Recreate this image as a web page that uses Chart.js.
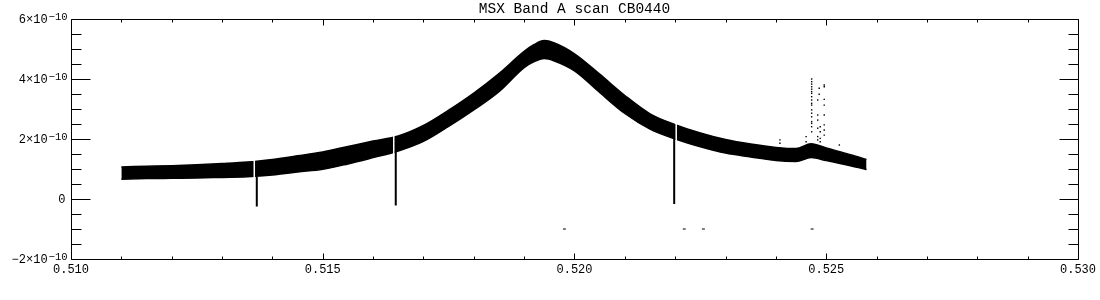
<!DOCTYPE html>
<html><head><meta charset="utf-8">
<script src="https://cdn.jsdelivr.net/npm/chart.js@4.4.1/dist/chart.umd.min.js"></script>
<style>html,body{margin:0;padding:0;background:#fff}canvas{display:block}</style>
</head><body>
<canvas id="c" width="1100" height="300"></canvas>
<script>
// ---- data (y values in units of 1e-10) ----
const titleText = 'MSX Band A scan CB0440';
const bandX     = [0.5110,0.5115,0.5120,0.5125,0.5130,0.5135,0.5140,0.5145,0.5150,0.5155,0.5160,0.5165,0.5170,0.5175,0.5180,0.5185,0.5190,0.5192,0.5194,0.5196,0.5200,0.5205,0.5210,0.5215,0.5220,0.5225,0.5230,0.5235,0.5240,0.5244,0.5247,0.5250,0.5255,0.5258];
const bandUpper = [1.07,1.09,1.11,1.14,1.18,1.23,1.32,1.44,1.57,1.75,1.93,2.10,2.45,2.96,3.53,4.18,4.92,5.15,5.28,5.20,4.84,4.16,3.45,2.84,2.48,2.20,1.98,1.83,1.72,1.68,1.84,1.70,1.47,1.32];
const bandLower = [0.66,0.68,0.69,0.70,0.72,0.74,0.80,0.90,0.99,1.17,1.38,1.60,1.92,2.42,2.97,3.58,4.38,4.58,4.68,4.60,4.27,3.55,2.85,2.33,2.00,1.74,1.53,1.40,1.28,1.25,1.38,1.28,1.10,0.98];

const dipX      = [0.51369, 0.51645, 0.52198];
const dipGapX   = [0.51364, 0.51641, 0.52202];
const dipTop    = [1.24, 2.08, 2.48];
const dipBottom = [0.73, 1.59, 2.00];
const dipMin    = [-0.25, -0.22, -0.17];

const spikeX = [0.52471,0.52471,0.52471,0.52471,0.52471,0.52471,0.52471,0.52471,0.52471,0.52471,0.52471,0.52471,0.52471,0.52471,0.52471,0.52471,0.52471,0.52471,
                0.52486,0.52486,
                0.52496,0.52496,0.52496,0.52496,0.52496,0.52496,0.52496,0.52496,
                0.52483,0.52483,0.52483,0.52483,0.52483,0.52483,
                0.52488,0.52488,0.52488,0.52488,
                0.52460,0.52460,
                0.52408,0.52408,
                0.52526];
const spikeY = [4.00,3.91,3.83,3.74,3.66,3.58,3.52,3.41,3.30,3.19,3.13,2.97,2.86,2.74,2.58,2.52,2.41,2.24,
                3.69,3.49,
                3.80,3.74,3.32,3.13,2.80,2.47,2.30,2.13,
                3.30,2.80,2.63,2.36,2.08,1.97,
                2.41,2.24,2.02,1.91,
                2.08,1.91,
                1.97,1.86,
                1.80];
const lowX = [0.51980, 0.52218, 0.52256, 0.52472];
const lowY = [-1.0, -1.0, -1.0, -1.0];

const xTickValues = [0.510, 0.515, 0.520, 0.525, 0.530];
const xTickLabels = ['0.510', '0.515', '0.520', '0.525', '0.530'];
const yTickValues = [-2, 0, 2, 4, 6];
const yTickBase   = ['\u22122\u00d710', '0', '2\u00d710', '4\u00d710', '6\u00d710'];
const yTickExp    = ['\u221210', '', '\u221210', '\u221210', '\u221210'];

// ---- build datasets ----
const pts = (xs, ys) => xs.map((x, i) => ({x: x, y: ys[i]}));
const datasets = [
  { data: pts(bandX, bandUpper), borderColor: '#000', borderWidth: 1.5, pointRadius: 0,
    fill: '+1', backgroundColor: '#000', cubicInterpolationMode: 'monotone', order: 3 },
  { data: pts(bandX, bandLower), borderColor: '#000', borderWidth: 1.5, pointRadius: 0,
    fill: false, cubicInterpolationMode: 'monotone', order: 3 }
];
dipX.forEach((x, i) => {
  datasets.push({ data: [{x: dipGapX[i], y: dipTop[i] + 0.1}, {x: dipGapX[i], y: dipBottom[i] - 0.1}],
    borderColor: '#fff', borderWidth: 1.5, pointRadius: 0, fill: false, order: 2 });
  datasets.push({ data: [{x: x, y: dipBottom[i]}, {x: x, y: dipMin[i]}],
    borderColor: '#000', borderWidth: 2, pointRadius: 0, fill: false, order: 1 });
});
datasets.push({ data: pts(spikeX, spikeY), showLine: false, pointStyle: 'rect', pointRadius: 1,
  pointBorderWidth: 0, pointBackgroundColor: '#000', order: 0 });
datasets.push({ data: pts(lowX, lowY), showLine: false, pointStyle: 'line', pointRadius: 1.5,
  pointBorderWidth: 1, pointBorderColor: '#000', order: 0 });

const MONO = '"Liberation Mono", "DejaVu Sans Mono", monospace';

// ---- IDL-style frame, inward ticks, title and superscript labels ----
const framePlugin = {
  id: 'frame',
  afterDraw(chart) {
    const ctx = chart.ctx, xs = chart.scales.x, ys = chart.scales.y, a = chart.chartArea;
    const L = Math.round(a.left) + 0.5, R = Math.round(a.right) + 0.5;
    const T = Math.round(a.top) + 0.5, B = Math.round(a.bottom) + 0.5;
    ctx.save();
    ctx.strokeStyle = '#000'; ctx.lineWidth = 1;
    ctx.beginPath();
    ctx.rect(L, T, R - L, B - T);
    for (let v = -2; v <= 6.0001; v += 0.5) {
      const major = yTickValues.some(t => Math.abs(t - v) < 1e-6);
      const len = major ? 19 : 10;
      const py = Math.round(ys.getPixelForValue(v)) + 0.5;
      ctx.moveTo(L, py); ctx.lineTo(L + len, py);
      ctx.moveTo(R, py); ctx.lineTo(R - len, py);
    }
    for (let k = 0; k <= 20; k++) {
      const v = 0.510 + k * 0.001;
      const major = k % 5 === 0;
      const len = major ? 6 : 3;
      const px = Math.round(xs.getPixelForValue(v)) + 0.5;
      ctx.moveTo(px, B); ctx.lineTo(px, B - len);
      ctx.moveTo(px, T); ctx.lineTo(px, T + len);
    }
    ctx.stroke();
    ctx.fillStyle = '#000';
    // title centred over the plot
    ctx.font = '14.5px ' + MONO;
    ctx.textAlign = 'center'; ctx.textBaseline = 'alphabetic';
    ctx.fillText(titleText, (a.left + a.right) / 2, 13);
    // y labels
    ctx.textAlign = 'right';
    const mainFont = '12px ' + MONO;
    const expFont = '10.5px ' + MONO;
    yTickValues.forEach((v, i) => {
      const py = Math.round(ys.getPixelForValue(v));
      const right = L - 4;
      if (yTickExp[i]) {
        ctx.font = expFont;
        const w = ctx.measureText(yTickExp[i]).width;
        ctx.fillText(yTickExp[i], right, py + 1);
        ctx.font = mainFont;
        ctx.fillText(yTickBase[i], right - w - 1, py + 4);
      } else {
        ctx.font = mainFont;
        ctx.fillText(yTickBase[i], right - 2, py + 4);
      }
    });
    ctx.restore();
  }
};

new Chart(document.getElementById('c'), {
  type: 'line',
  data: { datasets: datasets },
  options: {
    responsive: false, animation: false, devicePixelRatio: 1,
    layout: { padding: { left: 0, right: 21, top: 19, bottom: 0 } },
    plugins: {
      legend: { display: false }, tooltip: { enabled: false }, title: { display: false }
    },
    scales: {
      x: { type: 'linear', min: 0.510, max: 0.530,
        grid: { display: false, drawTicks: false }, border: { display: false },
        afterBuildTicks: s => { s.ticks = xTickValues.map(v => ({ value: v })); },
        ticks: { color: '#000', padding: 4, maxRotation: 0, autoSkip: false,
          font: { family: MONO, size: 12 },
          callback: (val) => { const i = xTickValues.findIndex(t => Math.abs(t - val) < 1e-9); return i >= 0 ? xTickLabels[i] : ''; } },
        afterFit: s => { s.height = 41; } },
      y: { type: 'linear', min: -2, max: 6,
        grid: { display: false, drawTicks: false }, border: { display: false },
        afterBuildTicks: s => { s.ticks = yTickValues.map(v => ({ value: v })); },
        ticks: { display: false },
        afterFit: s => { s.width = 71; } }
    }
  },
  plugins: [framePlugin]
});
</script>
</body></html>
